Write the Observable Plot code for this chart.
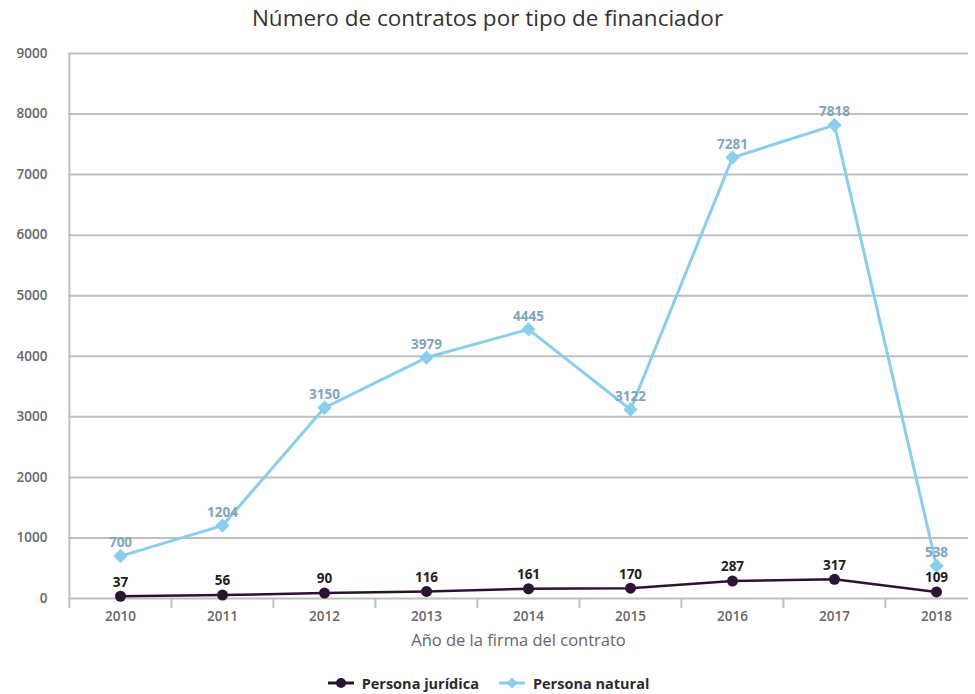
<!DOCTYPE html>
<html>
<head>
<meta charset="utf-8">
<script src="https://cdn.jsdelivr.net/npm/d3@7"></script>
<script src="https://cdn.jsdelivr.net/npm/@observablehq/plot@0.6"></script>
<style>
  body { margin: 0; background: #fff; font-family: "Open Sans", sans-serif; width: 975px; overflow: hidden; }
  #title { height: 40px; line-height: 36px; text-align: center; font-size: 22.5px; color: #333; font-weight: 400; }
  #legend { margin-top: 12px; height: 22px; display: flex; justify-content: center; align-items: center; gap: 18px; font-size: 14.5px; font-weight: 700; color: #2b2b2b; padding-left: 0px; }
  #legend span.item { display: flex; align-items: center; gap: 6px; }
</style>
</head>
<body>
<div id="title">Número de contratos por tipo de financiador</div>
<div id="chart"></div>
<div id="legend"></div>
<script>
const years = ["2010","2011","2012","2013","2014","2015","2016","2017","2018"];
const personaNatural = [700, 1204, 3150, 3979, 4445, 3122, 7281, 7818, 538];
const personaJuridica = [37, 56, 90, 116, 161, 170, 287, 317, 109];
const yTicks = [0,1000,2000,3000,4000,5000,6000,7000,8000,9000];
const seriesNames = ["Persona jurídica", "Persona natural"];
const seriesColors = ["#2e1233", "#87cfee"];

const nat = years.map((y, i) => ({year: y, value: personaNatural[i]}));
const jur = years.map((y, i) => ({year: y, value: personaJuridica[i]}));

const left = 68, right = 987;
const half = (right - left) / years.length / 2;

const chart = Plot.plot({
  width: 975,
  height: 620,
  marginTop: 13,
  marginLeft: left,
  marginRight: 7,
  marginBottom: 62,
  style: {fontFamily: "Open Sans, sans-serif", background: "#fff"},
  x: {type: "point", domain: years, range: [left, right], padding: 0.5},
  y: {domain: [0, 9000]},
  marks: [
    Plot.gridY(yTicks, {stroke: "#bfbfbf", strokeOpacity: 1, strokeWidth: 2}),
    Plot.ruleX([years[0]], {x: d => d, dx: -half, y1: 9000, y2: 0, insetBottom: -10, stroke: "#bfbfbf", strokeWidth: 2}),
    Plot.ruleX(years.slice(1), {x: d => d, dx: -half, y1: 0, y2: 0, insetBottom: -10, stroke: "#bfbfbf", strokeWidth: 2}),
    Plot.axisY({ticks: yTicks, tickSize: 0, tickPadding: 21, fontSize: 13.5, fontWeight: 600, fill: "#666", label: null, tickFormat: d => String(d)}),
    Plot.axisX({tickSize: 0, tickPadding: 13, fontSize: 13.5, fontWeight: 600, fill: "#666",
      label: "Año de la firma del contrato", labelAnchor: "center", labelArrow: "none", labelOffset: 47}),
    Plot.line(nat, {x: "year", y: "value", stroke: seriesColors[1], strokeWidth: 3}),
    Plot.dot(nat, {x: "year", y: "value", symbol: "diamond2", r: 5.5, fill: seriesColors[1], stroke: seriesColors[1]}),
    Plot.text(nat, {x: "year", y: "value", text: d => String(d.value), dy: -13, fontSize: 13.5, fontWeight: 700, fill: "#7ea6bd"}),
    Plot.line(jur, {x: "year", y: "value", stroke: seriesColors[0], strokeWidth: 2.5}),
    Plot.dot(jur, {x: "year", y: "value", r: 5.5, fill: seriesColors[0]}),
    Plot.text(jur, {x: "year", y: "value", text: d => String(d.value), dy: -14, fontSize: 13.5, fontWeight: 700, fill: "#1e1e1e"})
  ]
});
document.getElementById("chart").appendChild(chart);
d3.select(chart).selectAll("g[aria-label='x-axis label']").attr("font-size", 16.5).attr("font-weight", 400);
d3.select(chart).selectAll("g[aria-label='x-axis label'] text").attr("font-size", 16.5).attr("font-weight", 400);

const legend = d3.select("#legend");
seriesNames.forEach((name, i) => {
  const item = legend.append("span").attr("class", "item");
  const s = item.append("svg").attr("width", 30).attr("height", 14);
  s.append("line").attr("x1", 2).attr("x2", 28).attr("y1", 7).attr("y2", 7).attr("stroke", seriesColors[i]).attr("stroke-width", 3);
  if (i === 0) s.append("circle").attr("cx", 15).attr("cy", 7).attr("r", 5).attr("fill", seriesColors[i]);
  else s.append("path").attr("d", "M15,1.5L20.5,7L15,12.5L9.5,7Z").attr("fill", seriesColors[i]);
  item.append("span").text(name);
});
</script>
</body>
</html>
